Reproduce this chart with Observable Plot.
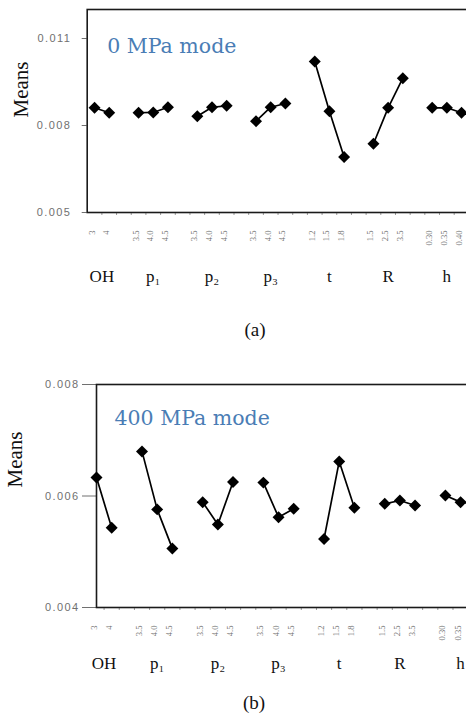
<!DOCTYPE html>
<html><head><meta charset="utf-8">
<script src="https://cdn.jsdelivr.net/npm/d3@7"></script>
<script src="https://cdn.jsdelivr.net/npm/@observablehq/plot@0.6"></script>
<style>
html,body{margin:0;padding:0;overflow:hidden;background:#fff;width:466px;height:718px}
#wrap{position:relative;width:466px;height:718px;overflow:hidden;background:#fff}
#wrap figure, #wrap svg{margin:0}
.panel{position:absolute;left:0;max-width:none !important}
.cap{position:absolute;left:0;width:100%;font-family:"Liberation Serif","Times New Roman",serif;font-size:19px;color:#111;line-height:20px;height:20px}
svg g[aria-label="y-axis tick label"] text{letter-spacing:1.4px}
</style></head><body><div id="wrap"></div>
<script>
// ---- data ----
const factors = ["OH", "p₁", "p₂", "p₃", "t", "R", "h"];
const levels = [
  ["3", "4"],
  ["3.5", "4.0", "4.5"],
  ["3.5", "4.0", "4.5"],
  ["3.5", "4.0", "4.5"],
  ["1.2", "1.5", "1.8"],
  ["1.5", "2.5", "3.5"],
  ["0.30", "0.35", "0.40"]
];
const means0MPa = [
  [0.00861, 0.00844],
  [0.00844, 0.00845, 0.00863],
  [0.00832, 0.00863, 0.00868],
  [0.00815, 0.00863, 0.00876],
  [0.01021, 0.00849, 0.00691],
  [0.00737, 0.00861, 0.00963],
  [0.00861, 0.00861, 0.00844]
];
const means400MPa = [
  [0.00633, 0.00543],
  [0.00680, 0.00576, 0.00506],
  [0.00589, 0.00549, 0.00625],
  [0.00624, 0.00562, 0.00577],
  [0.00523, 0.00662, 0.00579],
  [0.00586, 0.00592, 0.00583],
  [0.00601, 0.00589, 0.00585]
];
const yTicks0 = [0.005, 0.008, 0.011];
const yTicks400 = [0.004, 0.006, 0.008];
const modeLabels = ["0 MPa mode", "400 MPa mode"];
const captions = ["(a)", "(b)"];

// ---- build tables (slot index: levels of a factor adjacent, one empty slot between factors) ----
function buildRows(means) {
  const rows = [], groups = [];
  let start = 0;
  factors.forEach((f, g) => {
    levels[g].forEach((lv, i) => rows.push({factor: f, level: lv, slot: start + i, mean: means[g][i]}));
    groups.push({factor: f, center: start + (levels[g].length - 1) / 2});
    start += levels[g].length + 1;
  });
  return {rows, groups, nSlots: start - 1};
}

function panel(cfg) {
  const {rows, groups, nSlots} = buildRows(cfg.means);
  const boundaries = d3.range(0, nSlots + 1).map(k => k + 0.5);
  return Plot.plot({
    width: cfg.width, height: cfg.height,
    marginLeft: cfg.ml, marginRight: cfg.mr, marginTop: cfg.mt, marginBottom: cfg.mb,
    style: {background: "white", overflow: "visible", maxWidth: "none"},
    x: {domain: cfg.xDomain, axis: null},
    y: {domain: cfg.yDomain, axis: null},
    marks: [
      Plot.axisX({ticks: boundaries, tickSize: 3, tickFormat: () => "", label: null, stroke: "#9a9a9a", strokeWidth: 1}),
      Plot.axisY({ticks: cfg.yTicks, tickFormat: d => d.toFixed(3), tickSize: cfg.tickSize, tickPadding: cfg.tickPad, label: null,
        fontSize: 11, fontFamily: "'Liberation Sans', Arial, sans-serif", color: "#707070"}),
      Plot.frame({stroke: "#1a1a1a", strokeWidth: 1.6}),
      Plot.line(rows, {x: "slot", y: "mean", z: "factor", stroke: "#000", strokeWidth: 1.7}),
      Plot.dot(rows, {x: "slot", y: "mean", symbol: "diamond2", r: 5.4, fill: "#000", stroke: "none"}),
      Plot.text(rows, {x: "slot", text: "level", frameAnchor: "bottom", dy: 18, rotate: -90, textAnchor: "end",
        fontSize: 8.5, fontFamily: "'Liberation Serif', serif", fill: "#707070"}),
      Plot.text(groups, {x: "center", text: "factor", frameAnchor: "bottom", dy: cfg.catDy,
        fontSize: 17, fontFamily: "'Liberation Serif', 'Times New Roman', serif", fill: "#111"}),
      Plot.text([cfg.mode], {frameAnchor: "top-left", dx: cfg.modeDx, dy: cfg.modeDy, textAnchor: "start",
        fontSize: 20.5, fontFamily: "'DejaVu Serif', serif", fill: "#4a7db5"}),
      Plot.text(["Means"], {frameAnchor: "left", dx: cfg.labDx, dy: cfg.labDy, rotate: -90,
        fontSize: 21, fontFamily: "'Liberation Serif', 'Times New Roman', serif", fill: "#111"})
    ]
  });
}

const wrap = document.getElementById("wrap");

const a = panel({
  means: means0MPa, mode: modeLabels[0], yTicks: yTicks0, yDomain: [0.005, 0.012],
  width: 470, height: 300, ml: 86.7, mr: 470 - 86.7 - 26 * 14.68, mt: 9, mb: 88,
  xDomain: [-0.5, 25.5], tickSize: 5, tickPad: 11, catDy: 69.5,
  modeDx: 20, modeDy: 28.5, labDx: -66, labDy: 6.5
});
a.classList.add("panel"); a.style.top = "0px";
wrap.appendChild(a);

const capA = document.createElement("div");
capA.className = "cap"; capA.textContent = captions[0];
capA.style.top = "320px"; capA.style.left = "0px"; capA.style.width = "510px"; capA.style.textAlign = "center";
wrap.appendChild(capA);

const b = panel({
  means: means400MPa, mode: modeLabels[1], yTicks: yTicks400, yDomain: [0.004, 0.008],
  width: 490, height: 340, ml: 96, mr: 490 - 96 - 25.6 * 15.17, mt: 44, mb: 73,
  xDomain: [0, 25.6], tickSize: 14, tickPad: 3, catDy: 61.5,
  modeDx: 18, modeDy: 25.5, labDx: -81, labDy: -8.5
});
b.classList.add("panel"); b.style.top = "340px";
wrap.appendChild(b);

const capB = document.createElement("div");
capB.className = "cap"; capB.textContent = captions[1];
capB.style.top = "693px"; capB.style.left = "0px"; capB.style.width = "508px"; capB.style.textAlign = "center";
wrap.appendChild(capB);
</script></body></html>
